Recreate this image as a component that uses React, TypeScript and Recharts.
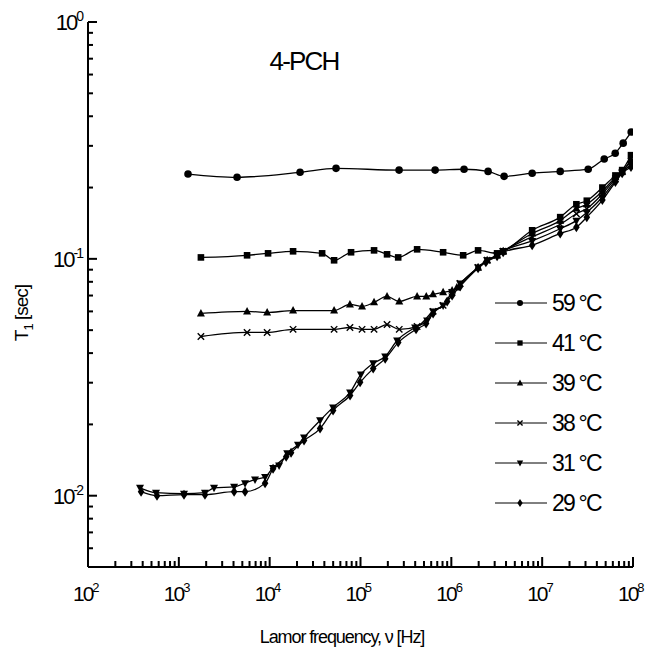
import { LineChart, Line, XAxis, YAxis, Legend } from "recharts";

// frequency [Hz] and T1 [s]
const f59 = [1262, 4375, 21600, 53800, 266000, 663000, 1.38e6, 2.54e6, 3.81e6, 7.76e6, 1.58e7, 3.21e7, 4.82e7, 6.37e7, 7.8e7, 9.55e7];
const t59 = [0.228, 0.221, 0.232, 0.241, 0.237, 0.237, 0.239, 0.234, 0.223, 0.23, 0.234, 0.239, 0.264, 0.279, 0.308, 0.343];

const f41 = [1750, 5640, 9600, 18100, 37800, 51200, 78700, 141000, 196000, 260000, 420000, 812000, 1.35e6, 1.97e6, 3.19e6, 3.72e6, 7.76e6, 1.58e7, 2.38e7, 3.1e7, 4.6e7, 6.4e7, 7.6e7, 9.5e7];
const t41 = [0.1014, 0.1035, 0.1055, 0.1076, 0.1055, 0.0986, 0.1066, 0.1086, 0.1045, 0.1014, 0.1097, 0.1066, 0.1035, 0.1086, 0.1055, 0.1076, 0.132, 0.15, 0.17, 0.176, 0.2, 0.225, 0.237, 0.274];

const f39 = [1750, 5640, 9380, 18100, 51200, 76500, 104000, 141000, 196000, 267000, 420000, 530000, 628000, 812000, 1.02e6, 1.15e6, 1.97e6, 2.48e6, 3.19e6, 3.72e6, 7.76e6, 1.58e7, 2.38e7, 3.1e7, 4.6e7, 6.4e7, 7.6e7, 9.5e7];
const t39 = [0.0588, 0.06, 0.0594, 0.0605, 0.0605, 0.0642, 0.063, 0.0655, 0.0694, 0.0661, 0.0694, 0.0694, 0.0708, 0.0722, 0.0736, 0.0757, 0.092, 0.0986, 0.1035, 0.1076, 0.128, 0.145, 0.163, 0.17, 0.193, 0.221, 0.234, 0.262];

const f38 = [1750, 5640, 9380, 18100, 51200, 76500, 104000, 141000, 196000, 267000, 420000, 630000, 812000, 1.02e6, 1.25e6, 1.97e6, 2.48e6, 3.19e6, 3.72e6, 7.76e6, 1.58e7, 2.38e7, 3.1e7, 4.6e7, 6.4e7, 7.6e7, 9.5e7];
const t38 = [0.047, 0.0489, 0.0489, 0.0504, 0.0504, 0.0513, 0.0504, 0.0504, 0.0528, 0.0504, 0.0518, 0.06, 0.0636, 0.0722, 0.0787, 0.092, 0.0986, 0.1035, 0.1076, 0.124, 0.14, 0.155, 0.163, 0.188, 0.218, 0.233, 0.258];

const f31 = [374, 561, 1140, 1940, 2440, 4060, 5360, 6900, 8900, 10900, 12700, 15600, 20500, 23900, 35900, 49900, 76800, 101000, 138000, 187000, 253000, 399000, 541000, 630000, 812000, 1.02e6, 1.25e6, 1.97e6, 2.48e6, 3.19e6, 3.72e6, 7.76e6, 1.58e7, 2.38e7, 3.1e7, 4.6e7, 6.4e7, 7.6e7, 9.5e7];
const t31 = [0.0108, 0.0103, 0.0102, 0.0103, 0.0108, 0.0109, 0.0113, 0.0117, 0.012, 0.0131, 0.0134, 0.0151, 0.0164, 0.0176, 0.0208, 0.0236, 0.0273, 0.0325, 0.0362, 0.0387, 0.0452, 0.0513, 0.0549, 0.06, 0.0636, 0.0722, 0.0787, 0.092, 0.0986, 0.1035, 0.1076, 0.119, 0.134, 0.145, 0.157, 0.182, 0.214, 0.231, 0.25];

const f29 = [384, 575, 1140, 1940, 4060, 5360, 8900, 10900, 15200, 17200, 23900, 35900, 49900, 76800, 99000, 138000, 187000, 260000, 409000, 527000, 630000, 900000, 1.02e6, 1.25e6, 1.97e6, 2.4e6, 3.19e6, 3.72e6, 7.76e6, 1.58e7, 2.38e7, 3.1e7, 4.6e7, 6.4e7, 7.6e7, 9.5e7];
const t29 = [0.0104, 0.01, 0.0101, 0.0101, 0.0104, 0.0104, 0.0113, 0.013, 0.0146, 0.0152, 0.0171, 0.0192, 0.0229, 0.0265, 0.0301, 0.0344, 0.0379, 0.0443, 0.0504, 0.0534, 0.0588, 0.0661, 0.07, 0.0765, 0.0912, 0.0967, 0.1025, 0.1066, 0.114, 0.128, 0.136, 0.15, 0.177, 0.211, 0.23, 0.244];

const xMajor = [1e2, 1e3, 1e4, 1e5, 1e6, 1e7, 1e8];
const yMajor = [0.01, 0.1, 1];

const series = [
  { name: "59 °C", f: f59, t: t59, shape: "circle" },
  { name: "41 °C", f: f41, t: t41, shape: "square" },
  { name: "39 °C", f: f39, t: t39, shape: "triangle" },
  { name: "38 °C", f: f38, t: t38, shape: "cross" },
  { name: "31 °C", f: f31, t: t31, shape: "down" },
  { name: "29 °C", f: f29, t: t29, shape: "diamond" },
];

const FONT = "'Liberation Sans', Arial, sans-serif";

// minor ticks at 2..9 of each decade
const xTicks: number[] = [];
for (let e = 2; e < 8; e++) for (let m = 1; m < 10; m++) xTicks.push(m * Math.pow(10, e));
xTicks.push(1e8);
const yTicks: number[] = [];
for (let m = 5; m < 10; m++) yTicks.push(+(m * 0.001).toPrecision(3));
for (let e = -2; e < 0; e++) for (let m = 1; m < 10; m++) yTicks.push(+(m * Math.pow(10, e)).toPrecision(3));
yTicks.push(1);

const isMajor = (v: number, list: number[]) => list.some((m) => Math.abs(v / m - 1) < 1e-6);

const Marker = ({ shape, cx, cy, s = 1 }: { shape: string; cx: number; cy: number; s?: number }) => {
  if (shape === "circle") return <circle cx={cx} cy={cy} r={3.8 * s} fill="#000" />;
  if (shape === "square") return <rect x={cx - 3.3 * s} y={cy - 3.3 * s} width={6.6 * s} height={6.6 * s} fill="#000" />;
  if (shape === "triangle")
    return <path d={`M${cx},${cy - 4.5 * s} L${cx + 4 * s},${cy + 3 * s} L${cx - 4 * s},${cy + 3 * s} Z`} fill="#000" />;
  if (shape === "down")
    return <path d={`M${cx},${cy + 4.5 * s} L${cx + 4 * s},${cy - 3 * s} L${cx - 4 * s},${cy - 3 * s} Z`} fill="#000" />;
  if (shape === "diamond")
    return <path d={`M${cx},${cy - 5 * s} L${cx + 3.3 * s},${cy} L${cx},${cy + 5 * s} L${cx - 3.3 * s},${cy} Z`} fill="#000" />;
  const d = 3.2 * s;
  return (
    <path d={`M${cx - d},${cy - d} L${cx + d},${cy + d} M${cx + d},${cy - d} L${cx - d},${cy + d}`} stroke="#000" strokeWidth={1.4} />
  );
};

// tick x/y here is the axis line itself (tickSize 0)
const renderXTick = (props: any) => {
  const x = Number(props.x);
  const y = Number(props.y);
  const v = props.payload.value;
  const major = isMajor(v, xMajor);
  return (
    <g>
      <rect x={x - 1} y={y - (major ? 10 : 6)} width={2} height={major ? 10 : 6} fill="#000" stroke="none" />
      {major && (
        <text x={x - 15} y={y + 34} textAnchor="start" fontFamily={FONT} fontSize={21} letterSpacing={-2} fill="#000">
          10
          <tspan dy={-9} fontSize={13}>
            {Math.round(Math.log10(v))}
          </tspan>
        </text>
      )}
    </g>
  );
};

const renderYTick = (props: any) => {
  const x = Number(props.x);
  const y = Number(props.y);
  const v = props.payload.value;
  const major = isMajor(v, yMajor);
  return (
    <g>
      <rect x={x} y={y - 1} width={major ? 9 : 5} height={2} fill="#000" stroke="none" />
      {major && (
        <text x={x - 6} y={y + 8} textAnchor="end" fontFamily={FONT} fontSize={22} letterSpacing={-2} fill="#000">
          10
          <tspan dy={-9} fontSize={14}>
            {Math.round(Math.log10(v))}
          </tspan>
        </text>
      )}
    </g>
  );
};

const LegendBox = () => (
  <svg width={140} height={240}>
    {series.map((s, i) => {
      const y = 15 + i * 40;
      return (
        <g key={s.name}>
          <line x1={0} x2={52} y1={y} y2={y} stroke="#000" strokeWidth={1} />
          <Marker shape={s.shape} cx={25} cy={y} s={0.8} />
          <text x={57} y={y + 8} fontFamily={FONT} fontSize={23} letterSpacing={-1.8} fill="#000">
            {s.name}
          </text>
        </g>
      );
    })}
  </svg>
);

export default function App() {
  return (
    <LineChart width={645} height={643} margin={{ top: 14, right: 20, left: 0, bottom: 0 }}>
      <XAxis
        type="number"
        dataKey="f"
        scale="log"
        domain={[100, 1e8]}
        ticks={xTicks}
        interval={0}
        allowDataOverflow
        height={84}
        tickLine={false}
        tickSize={0}
        tickMargin={0}
        tick={renderXTick}
        axisLine={{ stroke: "#000", strokeWidth: 2 }}
      />
      <YAxis
        type="number"
        dataKey="t"
        scale="log"
        domain={[0.005, 1]}
        ticks={yTicks}
        interval={0}
        allowDataOverflow
        width={80}
        tickLine={false}
        tickSize={0}
        tickMargin={0}
        tick={renderYTick}
        axisLine={{ stroke: "#000", strokeWidth: 2 }}
      />
      {series.map((s) => (
        <Line
          key={s.name}
          name={s.name}
          data={s.f.map((v, i) => ({ f: v, t: s.t[i] }))}
          dataKey="t"
          type="monotone"
          stroke="#000"
          strokeWidth={1.3}
          isAnimationActive={false}
          dot={(p: any) => <Marker key={`${s.name}-${p.index}`} shape={s.shape} cx={p.cx} cy={p.cy} />}
          activeDot={false}
        />
      ))}
      <Legend
        layout="vertical"
        align="center"
        verticalAlign="middle"
        content={<LegendBox />}
        wrapperStyle={{ position: "absolute", left: 487, top: 280, width: 140, height: 240 }}
      />
      <text x={296} y={62} textAnchor="middle" fontFamily={FONT} fontSize={26} letterSpacing={-1.8} fill="#000">
        4-PCH
      </text>
      <text x={334} y={635} textAnchor="middle" fontFamily={FONT} fontSize={18} letterSpacing={-1.1} fill="#000">
        Lamor frequency, ν [Hz]
      </text>
      <text
        transform="translate(20,305) rotate(-90)"
        textAnchor="middle"
        fontFamily={FONT}
        fontSize={19}
        letterSpacing={-1}
        fill="#000"
      >
        T
        <tspan dy={5} fontSize={13}>
          1
        </tspan>
        <tspan dy={-5}> [sec]</tspan>
      </text>
    </LineChart>
  );
}
